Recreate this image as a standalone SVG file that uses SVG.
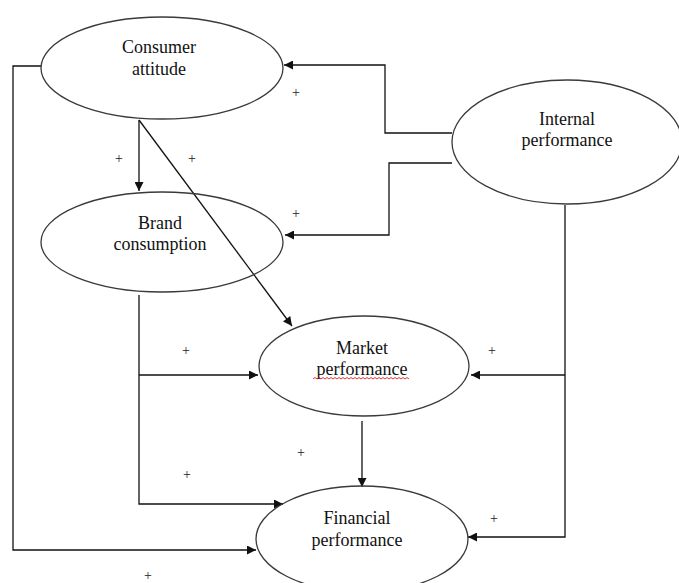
<svg xmlns="http://www.w3.org/2000/svg" width="679" height="583" viewBox="0 0 679 583">
<style>
.node ellipse{fill:none;stroke:#3a3a3a;stroke-width:1.3}
.node text{font-family:"Liberation Serif","Times New Roman",serif;font-size:18px;fill:#111;text-anchor:middle}
.conn path{fill:none;stroke:#111;stroke-width:1.3}
.plus{font-family:"Liberation Serif","Times New Roman",serif;font-size:14px;fill:#222;text-anchor:middle}
</style>
<defs>
<marker id="ah" viewBox="0 0 10 10" refX="10" refY="5" markerWidth="10" markerHeight="9" markerUnits="userSpaceOnUse" orient="auto">
<path d="M0,0 L10,5 L0,10 Z" fill="#111"/>
</marker>
</defs>
<rect width="679" height="583" fill="#fff"/>
<g id="connectors" class="conn">
<path d="M41,66 H13 V550 H256" marker-end="url(#ah)"/>
<path d="M452,133 H385 V65 H284" marker-end="url(#ah)"/>
<path d="M452,163 H389 V235 H285" marker-end="url(#ah)"/>
<path d="M139,120 V191" marker-end="url(#ah)"/>
<path d="M139,120 L292,326" marker-end="url(#ah)"/>
<path d="M139,295 V504 H283" marker-end="url(#ah)"/>
<path d="M139,375 H258" marker-end="url(#ah)"/>
<path d="M565,205 V537 H468" marker-end="url(#ah)"/>
<path d="M565,375 H471" marker-end="url(#ah)"/>
<path d="M362,421 V487" marker-end="url(#ah)"/>
</g>
<g id="consumer-attitude" class="node">
<ellipse cx="162" cy="68" rx="121" ry="51"/>
<text x="159" y="53">Consumer</text>
<text x="159" y="75">attitude</text>
</g>
<g id="internal-performance" class="node">
<ellipse cx="567" cy="142" rx="115" ry="62"/>
<text x="567" y="125">Internal</text>
<text x="567" y="146">performance</text>
</g>
<g id="brand-consumption" class="node">
<ellipse cx="162" cy="242" rx="121" ry="50"/>
<text x="160" y="229">Brand</text>
<text x="160" y="250">consumption</text>
</g>
<g id="market-performance" class="node">
<ellipse cx="364" cy="366" rx="105" ry="50"/>
<text x="362" y="354">Market</text>
<text x="362" y="375">performance</text>
<path d="M313,379 l2,-1.5 l2,1.5 l2,-1.5 l2,1.5 l2,-1.5 l2,1.5 l2,-1.5 l2,1.5 l2,-1.5 l2,1.5 l2,-1.5 l2,1.5 l2,-1.5 l2,1.5 l2,-1.5 l2,1.5 l2,-1.5 l2,1.5 l2,-1.5 l2,1.5 l2,-1.5 l2,1.5 l2,-1.5 l2,1.5 l2,-1.5 l2,1.5 l2,-1.5 l2,1.5 l2,-1.5 l2,1.5 l2,-1.5 l2,1.5 l2,-1.5 l2,1.5 l2,-1.5 l2,1.5 l2,-1.5 l2,1.5 l2,-1.5 l2,1.5 l2,-1.5 l2,1.5 l2,-1.5 l2,1.5 l2,-1.5 l2,1.5 l2,-1.5 l2,1.5" fill="none" stroke="#e02020" stroke-width="0.9"/>
</g>
<g id="financial-performance" class="node">
<ellipse cx="362" cy="539" rx="106" ry="53"/>
<text x="357" y="524">Financial</text>
<text x="357" y="546">performance</text>
</g>
<g id="signs">
<text class="plus" x="296" y="97">+</text>
<text class="plus" x="119" y="163">+</text>
<text class="plus" x="192" y="163">+</text>
<text class="plus" x="296" y="218">+</text>
<text class="plus" x="186" y="355">+</text>
<text class="plus" x="492" y="355">+</text>
<text class="plus" x="301" y="457">+</text>
<text class="plus" x="187" y="479">+</text>
<text class="plus" x="494" y="523">+</text>
<text class="plus" x="148" y="580">+</text>
</g>
</svg>
